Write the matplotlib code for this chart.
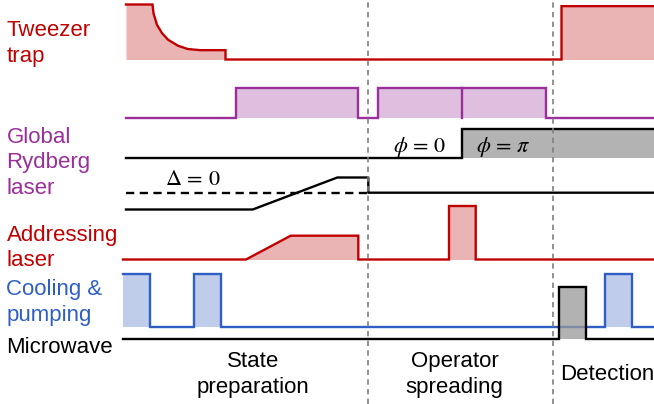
import matplotlib.pyplot as plt

plt.rcParams["font.family"] = ["Liberation Sans", "DejaVu Sans"]
plt.rcParams["mathtext.fontset"] = "stix"

# time axis runs left to right across the sequence; amplitudes are 0..1 per channel
trap_t = [126, 152.5, 153.5, 157, 162, 168, 178, 188, 200, 225.5, 225.5, 561.5, 561.5, 654]
trap_a = [1, 1, 0.84, 0.63, 0.48, 0.36, 0.25, 0.19, 0.17, 0.17, 0, 0, 0.97, 0.97]

ryd_t = [126, 235.7, 235.7, 358.3, 358.3, 377.5, 377.5, 546, 546, 654]
ryd_a = [0, 0, 1, 1, 0, 0, 1, 1, 0, 0]

phase_t = [126, 461.7, 461.7, 654]
phase_a = [0, 0, 1, 1]
phase_switch = 461.7

detune_t = [126, 252.7, 337.3, 368.3, 368.3, 654]
detune_v = [-1.05, -1.05, 0.95, 0.95, 0, 0]

addr_t = [123, 246, 290.7, 358.3, 358.3, 449, 449, 475.7, 475.7, 654]
addr_a = [0, 0, 0.445, 0.445, 0, 0, 1, 1, 0, 0]

cool_t = [122.7, 150, 150, 194, 194, 220.7, 220.7, 605.3, 605.3, 632, 632, 654]
cool_a = [1, 1, 0, 0, 1, 1, 0, 0, 1, 1, 0, 0]

mw_t = [123, 559.3, 559.3, 586, 586, 654]
mw_a = [0, 0, 1, 1, 0, 0]

stage_edges = [368.3, 553.3]
stage_names = ["State\npreparation", "Operator\nspreading", "Detection"]

RED = "#C00000"
PINK = "#EBB4B4"
PURPLE = "#9A2E9A"
LILAC = "#DFBFDF"
BLUE = "#2F5FC4"
LIGHTBLUE = "#BFCCEA"
GRAY = "#B3B3B3"
LW = 1.7

fig = plt.figure(figsize=(6.54, 4.04), dpi=100)
ax = fig.add_axes([0, 0, 1, 1])
ax.set_xlim(0, 654)
ax.set_ylim(404, 0)
ax.axis("off")


def channel(t, a, base, height, line, fill=None, fill_alpha=1.0, z=2):
    y = [base - v * height for v in a]
    if fill is not None:
        ax.fill_between(t, base, y, color=fill, lw=0, alpha=fill_alpha, zorder=z)
    ax.plot(t, y, color=line, lw=LW, zorder=z + 0.5, solid_joinstyle="miter")


channel(trap_t, trap_a, 59.5, 55, RED, PINK)
channel(ryd_t, ryd_a, 118.3, 30, PURPLE, LILAC)
ax.plot([phase_switch, phase_switch], [118.3, 88.3], color=PURPLE, lw=LW, zorder=2.5)
channel(phase_t, phase_a, 158.2, 29.7, "black", GRAY)
channel(addr_t, addr_a, 259.5, 53.5, RED, PINK)
channel(cool_t, cool_a, 327.3, 53.3, BLUE, LIGHTBLUE)
channel(mw_t, mw_a, 339.3, 52.6, "black", "#999999", fill_alpha=0.75, z=4)

# detuning ramp with the resonance reference drawn dashed
det_zero, det_scale = 192.7, 16.0
ax.plot(detune_t, [det_zero - v * det_scale for v in detune_v],
        color="black", lw=LW, zorder=2.5)
ax.plot([126, 368.3], [det_zero, det_zero], color="black", lw=LW,
        dashes=(3.5, 2.3), zorder=2.5)

for x in stage_edges:
    ax.axvline(x, color="#7F7F7F", lw=1.2, dashes=(3.2, 2.6), zorder=6)

fs = 16
labels = [
    (["Tweezer", "trap"], [36, 61.7], RED),
    (["Global", "Rydberg", "laser"], [142.7, 168.3, 194], PURPLE),
    (["Addressing", "laser"], [240.7, 266.5], RED),
    (["Cooling &", "pumping"], [295, 320.7], BLUE),
    (["Microwave"], [352.7], "black"),
]
for lines, ys, c in labels:
    for s, y in zip(lines, ys):
        ax.text(6.5, y, s, color=c, fontsize=fs, va="baseline", ha="left")

ax.text(165, 185, r"$\Delta\,=\,0$", fontsize=16, va="baseline")
ax.text(393, 151.7, r"$\phi\,=\,0$", fontsize=16, va="baseline")
ax.text(476.5, 151.7, r"$\phi\,=\,\pi$", fontsize=16, va="baseline")

stage_x = [253.3, 454.5, 607]
for name, x in zip(stage_names, stage_x):
    rows = name.split("\n")
    ys = [367.3, 393.3] if len(rows) == 2 else [380]
    for s, y in zip(rows, ys):
        ax.text(x, y, s, fontsize=fs, ha="center", va="baseline")

fig.savefig("out.png", dpi=100)
